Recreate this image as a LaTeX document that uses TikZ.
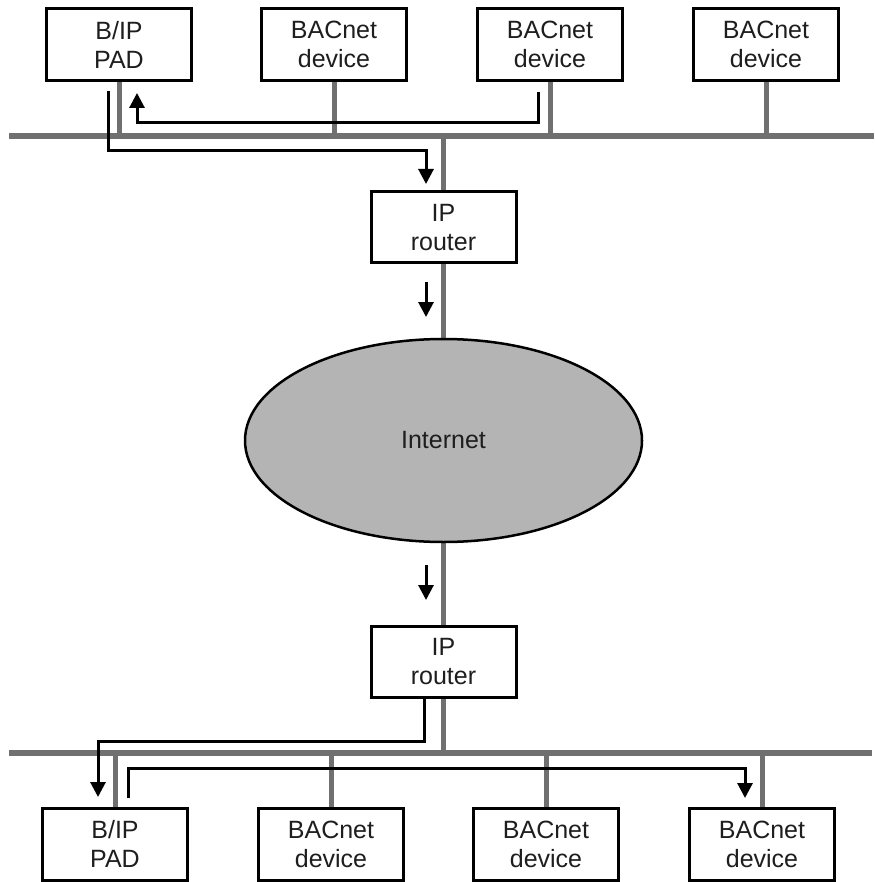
\documentclass[tikz,border=0pt]{standalone}
\usepackage{fontspec}
\setmainfont{Liberation Sans}
\usetikzlibrary{arrows.meta,shapes.geometric,backgrounds}
\definecolor{busgray}{HTML}{707070}
\definecolor{cloudgray}{HTML}{B4B4B4}
\definecolor{inkdark}{HTML}{1E1E1E}
\begin{document}
\begin{tikzpicture}[x=1pt,y=-1pt,
  devbox/.style={draw=black,line width=3pt,fill=white,minimum width=145pt,
    minimum height=72pt,inner sep=0pt,align=center,text=inkdark,
    font=\fontsize{25}{29}\selectfont},
  routerbox/.style={devbox,minimum height=71pt},
  cloud/.style={ellipse,draw=black,line width=2.5pt,fill=cloudgray,
    minimum width=397pt,minimum height=203pt,inner sep=0pt,text=inkdark,
    font=\fontsize{25}{29}\selectfont},
  bus/.style={busgray,line width=6pt},
  stub/.style={busgray,line width=5pt},
  flow/.style={black,line width=3pt,line join=miter,
    -{Triangle[length=15pt,width=15pt]}}
]
\useasboundingbox (0,0) rectangle (874,882);

% ---- upper LAN ----
\coordinate (busAl) at (9,136);
\coordinate (busAr) at (874,136);
\node[devbox] (padA) at (119,44.5) {B/IP\\PAD};
\node[devbox] (devA1) at (334,44.5) {BACnet\\device};
\node[devbox] (devA2) at (550,44.5) {BACnet\\device};
\node[devbox] (devA3) at (766,44.5) {BACnet\\device};
\node[routerbox] (rtA) at (443.5,227.5) {IP\\router};

% ---- Internet ----
\node[cloud] (net) at (443.5,440.5) {Internet};

% ---- lower LAN ----
\coordinate (busBl) at (9,753);
\coordinate (busBr) at (872,753);
\node[routerbox] (rtB) at (443.5,661.5) {IP\\router};
\node[devbox] (padB) at (115,844) {B/IP\\PAD};
\node[devbox] (devB1) at (331,844) {BACnet\\device};
\node[devbox] (devB2) at (546,844) {BACnet\\device};
\node[devbox] (devB3) at (762,844) {BACnet\\device};

% buses and drops, behind the boxes
\begin{scope}[on background layer]
\draw[bus] (busAl) -- (busAr);
\draw[bus] (busBl) -- (busBr);
\foreach \n in {padA,devA1,devA2,devA3}
  \draw[stub] (\n.south) -- (\n.south |- busAl);
\foreach \n in {padB,devB1,devB2,devB3}
  \draw[stub] (\n.north) -- (\n.north |- busBl);
\draw[stub] (rtA.north) -- (rtA.north |- busAl);
\draw[stub] (rtA.south) -- (net.north);
\draw[stub] (net.south) -- (rtB.north);
\draw[stub] (rtB.south) -- (rtB.south |- busBl);
\end{scope}

% ---- message flow ----
\coordinate (f1s) at (108,91);
\coordinate (f1e) at (426,184);
\draw[flow] (f1s) -- (108,151) -| (f1e);

\coordinate (f2s) at (538,92);
\coordinate (f2e) at (137,93);
\draw[flow] (f2s) -- (538,123) -| (f2e);

\coordinate (f3s) at (426,282);
\coordinate (f3e) at (426,317);
\draw[flow] (f3s) -- (f3e);

\coordinate (f4s) at (426,565);
\coordinate (f4e) at (426,600);
\draw[flow] (f4s) -- (f4e);

\coordinate (f5e) at (98,797);
\draw[flow] ([xshift=-19.5pt]rtB.south) -- ([xshift=-19.5pt]rtB.south |- 0,741) -| (f5e);

\coordinate (f6s) at (128,798);
\coordinate (f6e) at (745,798);
\draw[flow] (f6s) -- (128,768) -| (f6e);
\end{tikzpicture}
\end{document}
